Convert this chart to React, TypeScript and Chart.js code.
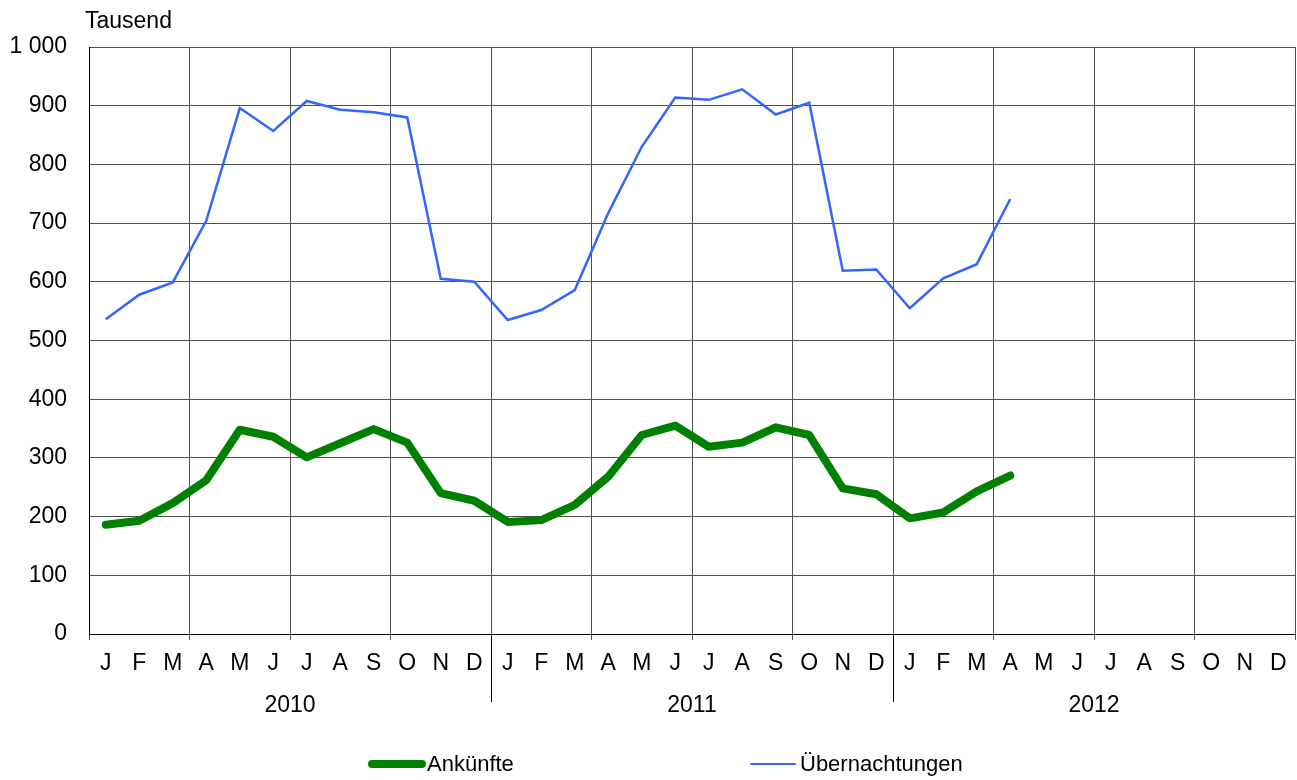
import React, { useEffect, useRef } from "react";
import { Chart, registerables } from "chart.js";

Chart.register(...registerables);

const monthLetters = ["J", "F", "M", "A", "M", "J", "J", "A", "S", "O", "N", "D"];
const years = ["2010", "2011", "2012"];
const yTicks = [0, 100, 200, 300, 400, 500, 600, 700, 800, 900, 1000];
const yUnit = "Tausend";

const seriesNames = ["Ankünfte", "Übernachtungen"];
const seriesColors = ["#008000", "#3366FF"];

// Values in thousands, Jan 2010 .. Apr 2012
const ankuenfte = [
  186, 193, 223, 262, 348, 336, 301, 325, 349, 326, 240, 227,
  191, 194, 220, 268, 339, 355, 319, 326, 352, 339, 248, 238,
  197, 207, 243, 270,
];
const uebernachtungen = [
  536, 578, 599, 704, 896, 857, 908, 893, 889, 880, 605, 600,
  535, 552, 586, 717, 830, 914, 910, 928, 885, 905, 619, 621,
  555, 606, 630, 741,
];

const FONT = "'Liberation Sans', Arial, sans-serif";
const FONT_SIZE = 23;
const LEGEND_FONT_SIZE = 22;
const GRID = "#505050";

const labels: string[] = [];
years.forEach(() => monthLetters.forEach((m) => labels.push(m)));

const pad = (arr: number[]) => {
  const out: (number | null)[] = arr.slice();
  while (out.length < labels.length) out.push(null);
  return out;
};

const fmt = (v: number) => String(v).replace(/\B(?=(\d{3})+(?!\d))/g, " ");

const yearPlugin = {
  id: "yearPlugin",
  afterDraw(chart: any) {
    const { ctx, chartArea } = chart;
    const xs = chart.scales.x;
    ctx.save();
    ctx.font = `${FONT_SIZE}px ${FONT}`;
    ctx.fillStyle = "#000";
    ctx.textAlign = "left";
    ctx.textBaseline = "alphabetic";
    ctx.fillText(yUnit, chartArea.left - 4, 28);
    const n = monthLetters.length;
    years.forEach((y, i) => {
      const first = xs.getPixelForValue(i * n);
      const last = xs.getPixelForValue(i * n + n - 1);
      const half = (xs.getPixelForValue(1) - xs.getPixelForValue(0)) / 2;
      if (i > 0) {
        const sx = Math.round(first - half) + 0.5;
        ctx.strokeStyle = "#000";
        ctx.lineWidth = 1;
        ctx.beginPath();
        ctx.moveTo(sx, chartArea.bottom);
        ctx.lineTo(sx, chartArea.bottom + 68);
        ctx.stroke();
      }
      ctx.textAlign = "center";
      ctx.textBaseline = "middle";
      ctx.fillText(y, (first + last) / 2, chartArea.bottom + 72);
    });
    ctx.restore();
  },
};

export default function App() {
  const ref = useRef<HTMLCanvasElement | null>(null);

  useEffect(() => {
    if (!ref.current) return;
    const chart = new Chart(ref.current, {
      type: "line",
      data: {
        labels,
        datasets: [
          {
            label: seriesNames[0],
            data: pad(ankuenfte),
            borderColor: seriesColors[0],
            backgroundColor: seriesColors[0],
            borderWidth: 8,
            borderCapStyle: "round",
            borderJoinStyle: "round",
            pointRadius: 0,
            tension: 0,
          },
          {
            label: seriesNames[1],
            data: pad(uebernachtungen),
            borderColor: seriesColors[1],
            backgroundColor: seriesColors[1],
            borderWidth: 2.5,
            borderJoinStyle: "miter",
            pointRadius: 0,
            tension: 0,
          },
        ],
      },
      options: {
        animation: false,
        responsive: false,
        maintainAspectRatio: false,
        layout: { padding: { top: 47, right: 2, left: 0, bottom: 0 } },
        plugins: {
          legend: { display: false },
          tooltip: { enabled: false },
          title: { display: false },
        },
        scales: {
          x: {
            type: "category",
            offset: true,
            grid: {
              offset: true,
              color: (c: any) =>
                c.type !== "tick" || c.index % 3 === 0 ? GRID : "rgba(0,0,0,0)",
              lineWidth: 1,
              drawTicks: true,
              tickLength: 6,
            },
            border: { color: "#000", width: 1 },
            ticks: {
              autoSkip: false,
              maxRotation: 0,
              minRotation: 0,
              padding: 10,
              color: "#000",
              font: { family: FONT, size: FONT_SIZE },
            },
            afterFit: (s: any) => {
              s.height = 146;
            },
          },
          y: {
            min: yTicks[0],
            max: yTicks[yTicks.length - 1],
            afterBuildTicks: (s: any) => {
              s.ticks = yTicks.map((v) => ({ value: v }));
            },
            grid: { color: GRID, lineWidth: 1, drawTicks: false },
            border: { color: "#000", width: 1 },
            ticks: {
              padding: 22,
              color: "#000",
              font: { family: FONT, size: FONT_SIZE },
              callback: (v: any) => fmt(Number(v)),
            },
            afterFit: (s: any) => {
              s.width = 89;
            },
          },
        },
      },
      plugins: [yearPlugin],
    });
    return () => chart.destroy();
  }, []);

  const legendItem = (i: number, lineLeft: number, lineWidth: number, thick: number, textLeft: number) => (
    <React.Fragment key={i}>
      <div
        style={{
          position: "absolute",
          left: lineLeft,
          top: 764 - thick / 2,
          width: lineWidth,
          height: thick,
          borderRadius: thick / 2,
          background: seriesColors[i],
        }}
      />
      <div
        style={{
          position: "absolute",
          left: textLeft,
          top: 764 - 13,
          height: 26,
          lineHeight: "26px",
          fontFamily: FONT,
          fontSize: LEGEND_FONT_SIZE,
          color: "#000",
          whiteSpace: "nowrap",
        }}
      >
        {seriesNames[i]}
      </div>
    </React.Fragment>
  );

  return (
    <div style={{ position: "fixed", left: 0, top: 0, width: 1297, height: 780, background: "#fff" }}>
      <canvas ref={ref} width={1297} height={780} style={{ position: "absolute", left: 0, top: 0 }} />
      {legendItem(0, 368, 58, 8, 427)}
      {legendItem(1, 750, 46, 2, 800)}
    </div>
  );
}
